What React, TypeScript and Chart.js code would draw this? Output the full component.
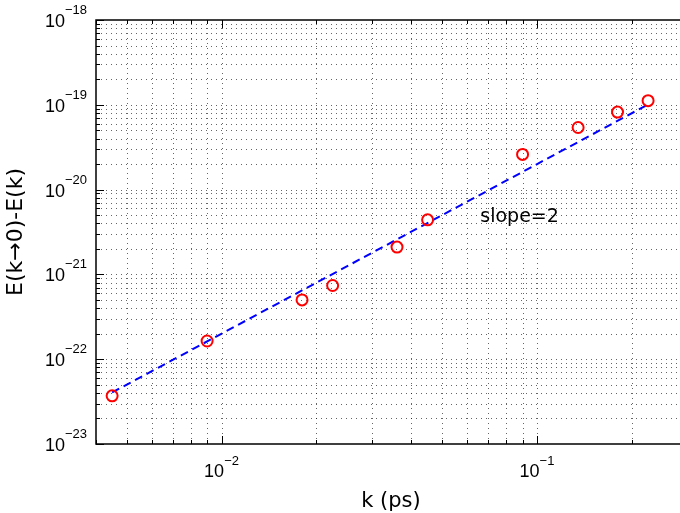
import React, { useEffect, useRef } from "react";
import { Chart, registerables } from "chart.js";

Chart.register(...registerables);

const kValues = [0.0045, 0.009, 0.018, 0.0225, 0.036, 0.045, 0.09, 0.135, 0.18, 0.225];
const energyDiff = [3.7e-23, 1.64e-22, 5.0e-22, 7.4e-22, 2.1e-21, 4.4e-21, 2.6e-20, 5.4e-20, 8.2e-20, 1.12e-19];
const fitK = [0.0045, 0.225];
const fitE = [4.05e-23, 1.01e-19];
const xRange = [0.004, 0.284];
const yRange = [1e-23, 1e-18];
const xMajorExps = [-2, -1];
const yMajorExps = [-23, -22, -21, -20, -19, -18];
const xTitle = "k (ps)";
const yTitle = "E(k\u21920)-E(k)";
const slopeText = "slope=2";
const slopePos = { k: 0.0661, e: 4.8e-21 };

const TICK_FONT = "'Liberation Sans', Arial, sans-serif";
const TITLE_FONT = "'DejaVu Sans', sans-serif";

function gridValues(min: number, max: number): { v: number; major: boolean }[] {
  const out: { v: number; major: boolean }[] = [];
  const e0 = Math.floor(Math.log10(min)) - 1;
  const e1 = Math.ceil(Math.log10(max)) + 1;
  for (let e = e0; e <= e1; e++) {
    for (let m = 1; m <= 9; m++) {
      const v = m * Math.pow(10, e);
      if (v >= min * 0.9999 && v <= max * 1.0001) out.push({ v, major: m === 1 });
    }
  }
  return out;
}

const axesPlugin = {
  id: "matlabAxes",
  beforeDatasetsDraw(chart: any) {
    const { ctx, chartArea } = chart;
    const { left, right, top, bottom } = chartArea;
    const xs = chart.scales.x;
    const ys = chart.scales.y;
    ctx.save();
    ctx.strokeStyle = "rgba(0,0,0,0.6)";
    ctx.lineWidth = 1;
    ctx.setLineDash([1, 4]);
    for (const g of gridValues(xRange[0], xRange[1])) {
      const px = Math.round(xs.getPixelForValue(g.v)) + 0.5;
      if (px <= left + 1 || px >= right - 1) continue;
      ctx.beginPath();
      ctx.moveTo(px, bottom);
      ctx.lineTo(px, top);
      ctx.stroke();
    }
    for (const g of gridValues(yRange[0], yRange[1])) {
      const py = Math.round(ys.getPixelForValue(g.v)) + 0.5;
      if (py <= top + 1 || py >= bottom - 1) continue;
      ctx.beginPath();
      ctx.moveTo(left, py);
      ctx.lineTo(right, py);
      ctx.stroke();
    }
    ctx.setLineDash([]);
    ctx.strokeStyle = "#000";
    ctx.lineWidth = 1;
    for (const g of gridValues(xRange[0], xRange[1])) {
      const px = Math.round(xs.getPixelForValue(g.v)) + 0.5;
      const len = g.major ? 8 : 4;
      ctx.beginPath();
      ctx.moveTo(px, bottom);
      ctx.lineTo(px, bottom - len);
      ctx.moveTo(px, top);
      ctx.lineTo(px, top + len);
      ctx.stroke();
    }
    for (const g of gridValues(yRange[0], yRange[1])) {
      const py = Math.round(ys.getPixelForValue(g.v)) + 0.5;
      const len = g.major ? 8 : 4;
      ctx.beginPath();
      ctx.moveTo(left, py);
      ctx.lineTo(left + len, py);
      ctx.stroke();
    }
    ctx.lineWidth = 1.5;
    ctx.beginPath();
    ctx.moveTo(right + 2, top);
    ctx.lineTo(left, top);
    ctx.lineTo(left, bottom);
    ctx.lineTo(right + 2, bottom);
    ctx.stroke();
    ctx.restore();
  },
  afterDraw(chart: any) {
    const { ctx, chartArea } = chart;
    const { left, right, top, bottom } = chartArea;
    const xs = chart.scales.x;
    const ys = chart.scales.y;
    ctx.save();
    ctx.fillStyle = "#000";
    const baseFont = `18px ${TICK_FONT}`;
    const expFont = `13px ${TICK_FONT}`;
    for (const e of yMajorExps) {
      const py = ys.getPixelForValue(Math.pow(10, e));
      const expStr = "\u2212" + String(-e);
      ctx.font = expFont;
      const ew = ctx.measureText(expStr).width;
      const rx = left - 9;
      ctx.textAlign = "right";
      ctx.textBaseline = "alphabetic";
      ctx.fillText(expStr, rx, py - 6);
      ctx.font = baseFont;
      ctx.fillText("10", rx - ew, py + 7);
    }
    for (const e of xMajorExps) {
      const px = xs.getPixelForValue(Math.pow(10, e));
      const expStr = "\u2212" + String(-e);
      ctx.font = expFont;
      const ew = ctx.measureText(expStr).width;
      ctx.font = baseFont;
      const bw = ctx.measureText("10").width;
      const x0 = px - (bw + ew) / 2;
      ctx.textAlign = "left";
      ctx.textBaseline = "alphabetic";
      ctx.fillText("10", x0, bottom + 33);
      ctx.font = expFont;
      ctx.fillText(expStr, x0 + bw, bottom + 21);
    }
    ctx.font = `21px ${TITLE_FONT}`;
    ctx.textAlign = "center";
    ctx.textBaseline = "alphabetic";
    ctx.fillText(xTitle, (left + right) / 2 + 3, bottom + 63);
    ctx.font = `22px ${TITLE_FONT}`;
    ctx.save();
    ctx.translate(22, (top + bottom) / 2);
    ctx.rotate(-Math.PI / 2);
    ctx.fillText(yTitle, 0, 0);
    ctx.restore();
    ctx.font = `19px ${TITLE_FONT}`;
    ctx.textAlign = "left";
    ctx.textBaseline = "middle";
    ctx.fillText(slopeText, xs.getPixelForValue(slopePos.k), ys.getPixelForValue(slopePos.e));
    ctx.restore();
  },
};

export default function App() {
  const ref = useRef<HTMLCanvasElement | null>(null);
  useEffect(() => {
    if (!ref.current) return;
    const chart = new Chart(ref.current, {
      type: "scatter",
      data: {
        datasets: [
          {
            label: "data",
            data: kValues.map((k, i) => ({ x: k, y: energyDiff[i] })),
            showLine: false,
            pointStyle: "circle",
            pointRadius: 5.5,
            pointBorderWidth: 2,
            pointBorderColor: "#ff0000",
            pointBackgroundColor: "rgba(0,0,0,0)",
            borderColor: "#ff0000",
            backgroundColor: "rgba(0,0,0,0)",
          },
          {
            label: "fit",
            data: fitK.map((k, i) => ({ x: k, y: fitE[i] })),
            showLine: true,
            pointRadius: 0,
            borderColor: "#0000ff",
            borderWidth: 2,
            borderDash: [8, 5],
            fill: false,
          },
        ],
      },
      options: {
        animation: false,
        responsive: true,
        maintainAspectRatio: false,
        layout: { autoPadding: false, padding: { left: 96, top: 20, right: 0, bottom: 69 } },
        plugins: { legend: { display: false }, tooltip: { enabled: false } },
        scales: {
          x: { type: "logarithmic", min: xRange[0], max: xRange[1], display: false },
          y: { type: "logarithmic", min: yRange[0], max: yRange[1], display: false },
        },
      },
      plugins: [axesPlugin],
    });
    return () => chart.destroy();
  }, []);
  return (
    <div style={{ position: "fixed", left: 0, top: 0, width: 680, height: 513, background: "#fff" }}>
      <canvas ref={ref} />
    </div>
  );
}
